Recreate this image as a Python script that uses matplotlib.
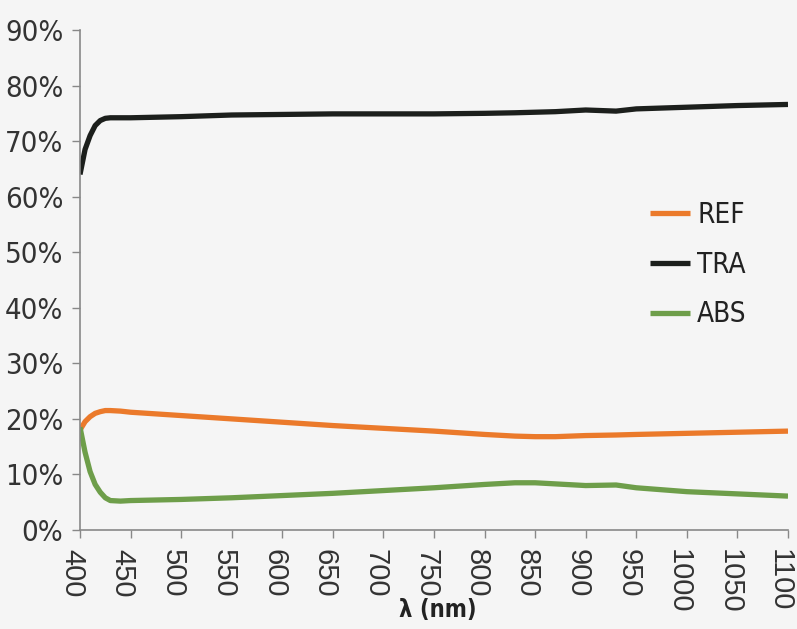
import matplotlib
matplotlib.use("Agg")
import matplotlib.pyplot as plt
import matplotlib.transforms as mtransforms
from matplotlib import font_manager
from matplotlib.ticker import FixedLocator, NullFormatter

# spectral data (wavelength in nm, values in %)
wavelength = [400, 405, 410, 415, 420, 425, 430, 440, 450, 500, 550, 600, 650,
              700, 750, 800, 830, 850, 870, 900, 930, 950, 1000, 1050, 1100]
tra = [64.0, 68.5, 71.0, 72.8, 73.7, 74.1, 74.2, 74.2, 74.2, 74.4, 74.7, 74.8, 74.9,
       74.9, 74.9, 75.0, 75.1, 75.2, 75.3, 75.6, 75.4, 75.8, 76.1, 76.4, 76.6]
ref = [18.0, 19.5, 20.4, 21.0, 21.3, 21.5, 21.5, 21.4, 21.2, 20.6, 20.0, 19.4, 18.8,
       18.3, 17.8, 17.2, 16.9, 16.8, 16.8, 17.0, 17.1, 17.2, 17.4, 17.6, 17.8]
abs_ = [18.5, 14.0, 10.5, 8.2, 6.8, 5.8, 5.3, 5.2, 5.3, 5.5, 5.8, 6.2, 6.6,
        7.1, 7.6, 8.2, 8.5, 8.5, 8.3, 8.0, 8.1, 7.6, 6.9, 6.5, 6.1]

xticks = list(range(400, 1101, 50))
yticks = list(range(0, 91, 10))

bg = "#f5f5f5"
narrow_family = ["Liberation Sans Narrow", "DejaVu Sans"]


def narrow(size, weight="normal"):
    return font_manager.FontProperties(family=narrow_family, stretch="condensed",
                                       size=size, weight=weight)


fig = plt.figure(figsize=(7.97, 6.29), dpi=100, facecolor=bg)
ax = fig.add_axes([80 / 797, 1 - 530 / 629, 708 / 797, 500 / 629], facecolor=bg)

ax.plot(wavelength, ref, color="#eb7a2b", lw=3.8, label="REF", solid_capstyle="butt")
ax.plot(wavelength, tra, color="#1c1f1c", lw=3.8, label="TRA", solid_capstyle="butt")
ax.plot(wavelength, abs_, color="#6e9e4a", lw=3.8, label="ABS", solid_capstyle="butt")

ax.set_xlim(400, 1100)
ax.set_ylim(0, 90)
ax.xaxis.set_major_locator(FixedLocator(xticks))
ax.yaxis.set_major_locator(FixedLocator(yticks))
ax.set_yticklabels([f"{v}%" for v in yticks], fontproperties=narrow(21), color="#333333")
ax.xaxis.set_major_formatter(NullFormatter())

# rotated wavelength labels, sitting a little left of their ticks
shift = mtransforms.ScaledTranslation(-8 / 100, -19 / 100, fig.dpi_scale_trans)
xform = ax.get_xaxis_transform() + shift
for v in xticks:
    ax.text(v, 0, str(v), transform=xform, rotation=-90, ha="center", va="top",
            family=["Liberation Sans", "DejaVu Sans"], fontsize=21, color="#333333",
            clip_on=False)

for side in ("top", "right"):
    ax.spines[side].set_visible(False)
for side in ("left", "bottom"):
    ax.spines[side].set_color("#888888")
    ax.spines[side].set_linewidth(1.2)
ax.tick_params(axis="both", direction="out", color="#888888", length=6, width=1)
ax.tick_params(axis="y", pad=6)

ax.set_xlabel("λ (nm)", fontproperties=narrow(17, "bold"), color="#222222")
ax.xaxis.set_label_coords(0.505, -0.135)

leg = ax.legend(loc="upper left", bbox_to_anchor=(570 / 708, (530 - 201) / 500),
                frameon=False, prop=narrow(20),
                handlelength=1.45, handletextpad=0.25, labelspacing=0.78,
                borderpad=0, borderaxespad=0)
for t in leg.get_texts():
    t.set_color("#222222")

fig.savefig("out.png", dpi=100, facecolor=bg)
